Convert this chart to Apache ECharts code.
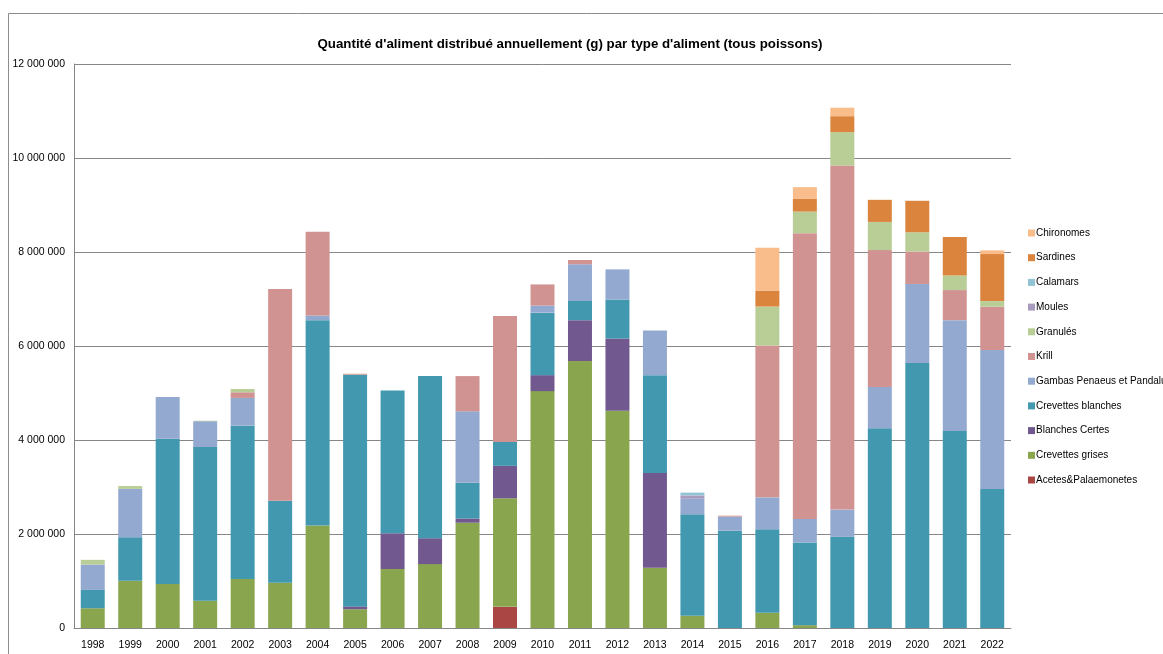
<!DOCTYPE html>
<html>
<head>
<meta charset="utf-8">
<script src="https://cdn.jsdelivr.net/npm/echarts@6/dist/echarts.min.js"></script>
<style>
  html, body { margin: 0; padding: 0; background: #fff; }
  #chart { width: 1163px; height: 654px; }
</style>
</head>
<body>
<div id="chart"></div>
<script>
// Annual food quantities (g) per food type, stacked by year
const years = ['1998','1999','2000','2001','2002','2003','2004','2005','2006','2007','2008','2009','2010',
               '2011','2012','2013','2014','2015','2016','2017','2018','2019','2020','2021','2022'];

const acetes     = [0,0,0,0,0,0,0,0,0,0,0,450000,0,0,0,0,0,0,0,0,0,0,0,0,0];
const grises     = [420000,1005000,935000,580000,1045000,965000,2180000,400000,1255000,1360000,2240000,2310000,5040000,
                    5680000,4620000,1280000,260000,0,325000,60000,0,0,0,0,0];
const certes     = [0,0,0,0,0,0,0,60000,760000,550000,90000,690000,340000,870000,1540000,2020000,0,0,0,0,0,0,0,0,0];
const blanches   = [390000,925000,3090000,3270000,3260000,1740000,4370000,4930000,3040000,3450000,760000,510000,1330000,
                    410000,830000,2080000,2160000,2070000,1775000,1760000,1940000,4250000,5640000,4190000,2960000];
const gambas     = [540000,1030000,890000,550000,590000,0,100000,0,0,0,1520000,0,150000,780000,640000,950000,
                    330000,300000,680000,500000,580000,880000,1680000,2360000,2955000];
const krill      = [0,0,0,0,120000,4510000,1780000,20000,0,0,750000,2680000,450000,90000,0,0,0,20000,3230000,
                    6080000,7320000,2910000,690000,640000,920000];
const granules   = [100000,60000,0,10000,70000,0,0,0,0,0,0,0,0,0,0,0,0,0,830000,460000,710000,600000,410000,310000,120000];
const moules     = [0,0,0,0,0,0,0,0,0,0,0,0,0,0,0,0,70000,0,0,0,0,0,0,0,0];
const calamars   = [0,0,0,0,0,0,0,0,0,0,0,0,0,0,0,0,60000,0,0,0,0,0,0,0,0];
const sardines   = [0,0,0,0,0,0,0,0,0,0,0,0,0,0,0,0,0,0,340000,270000,340000,470000,670000,820000,1000000];
const chironomes = [0,0,0,0,0,0,0,0,0,0,0,0,0,0,0,0,0,0,910000,250000,180000,0,0,0,80000];

const yTicks = [0, 2000000, 4000000, 6000000, 8000000, 10000000, 12000000];

// Stack order from bottom to top
const seriesDefs = [
  { name: 'Acetes&Palaemonetes',       data: acetes,     color: '#AA4643' },
  { name: 'Crevettes grises',          data: grises,     color: '#89A54E' },
  { name: 'Blanches Certes',           data: certes,     color: '#71588F' },
  { name: 'Crevettes blanches',        data: blanches,   color: '#4198AF' },
  { name: 'Gambas Penaeus et Pandalus',data: gambas,     color: '#93A9CF' },
  { name: 'Krill',                     data: krill,      color: '#D19392' },
  { name: 'Granulés',                  data: granules,   color: '#B9CD96' },
  { name: 'Moules',                    data: moules,     color: '#A99BBD' },
  { name: 'Calamars',                  data: calamars,   color: '#92C3D4' },
  { name: 'Sardines',                  data: sardines,   color: '#DB843D' },
  { name: 'Chironomes',                data: chironomes, color: '#F9BD8C' }
];

const font = "'Liberation Sans', sans-serif";
const fmt = v => String(v).replace(/\B(?=(\d{3})+(?!\d))/g, ' ');

const chart = echarts.init(document.getElementById('chart'), null, { renderer: 'canvas' });
chart.setOption({
  animation: false,
  backgroundColor: '#fff',
  title: {
    text: "Quantité d'aliment distribué annuellement (g) par type d'aliment (tous poissons)",
    left: 565, top: 33, textAlign: 'center',
    textStyle: { fontFamily: font, fontSize: 13.3, fontWeight: 'bold', color: '#000' }
  },
  graphic: [{
    type: 'rect', silent: true,
    shape: { x: 8.5, y: 13.5, width: 1300, height: 800 },
    style: { fill: 'none', stroke: '#8c8c8c', lineWidth: 1 }
  }],
  legend: {
    orient: 'vertical', left: 1028, top: 226, padding: 0,
    icon: 'rect', itemWidth: 7, itemHeight: 7, itemGap: 10.7,
    data: seriesDefs.map(s => s.name).reverse(),
    textStyle: { fontFamily: font, fontSize: 10, color: '#000', lineHeight: 14, padding: [0, 0, 0, -4] }
  },
  grid: { left: 74, top: 64, right: 152, bottom: 26, containLabel: false },
  xAxis: {
    type: 'category', data: years,
    axisLine: { lineStyle: { color: '#868686' } },
    axisTick: { show: false },
    axisLabel: { fontFamily: font, fontSize: 10.5, color: '#000', margin: 12, interval: 0 }
  },
  yAxis: {
    type: 'value', min: yTicks[0], max: yTicks[yTicks.length - 1], interval: yTicks[1] - yTicks[0],
    axisLine: { show: true, lineStyle: { color: '#868686' } },
    axisTick: { show: false },
    splitLine: { lineStyle: { color: '#868686' } },
    axisLabel: { fontFamily: font, fontSize: 10.5, color: '#000', margin: 9, formatter: fmt }
  },
  series: seriesDefs.map(s => ({
    name: s.name, type: 'bar', stack: 'total', data: s.data,
    barCategoryGap: '36%',
    itemStyle: { color: s.color }
  }))
});
</script>
</body>
</html>
